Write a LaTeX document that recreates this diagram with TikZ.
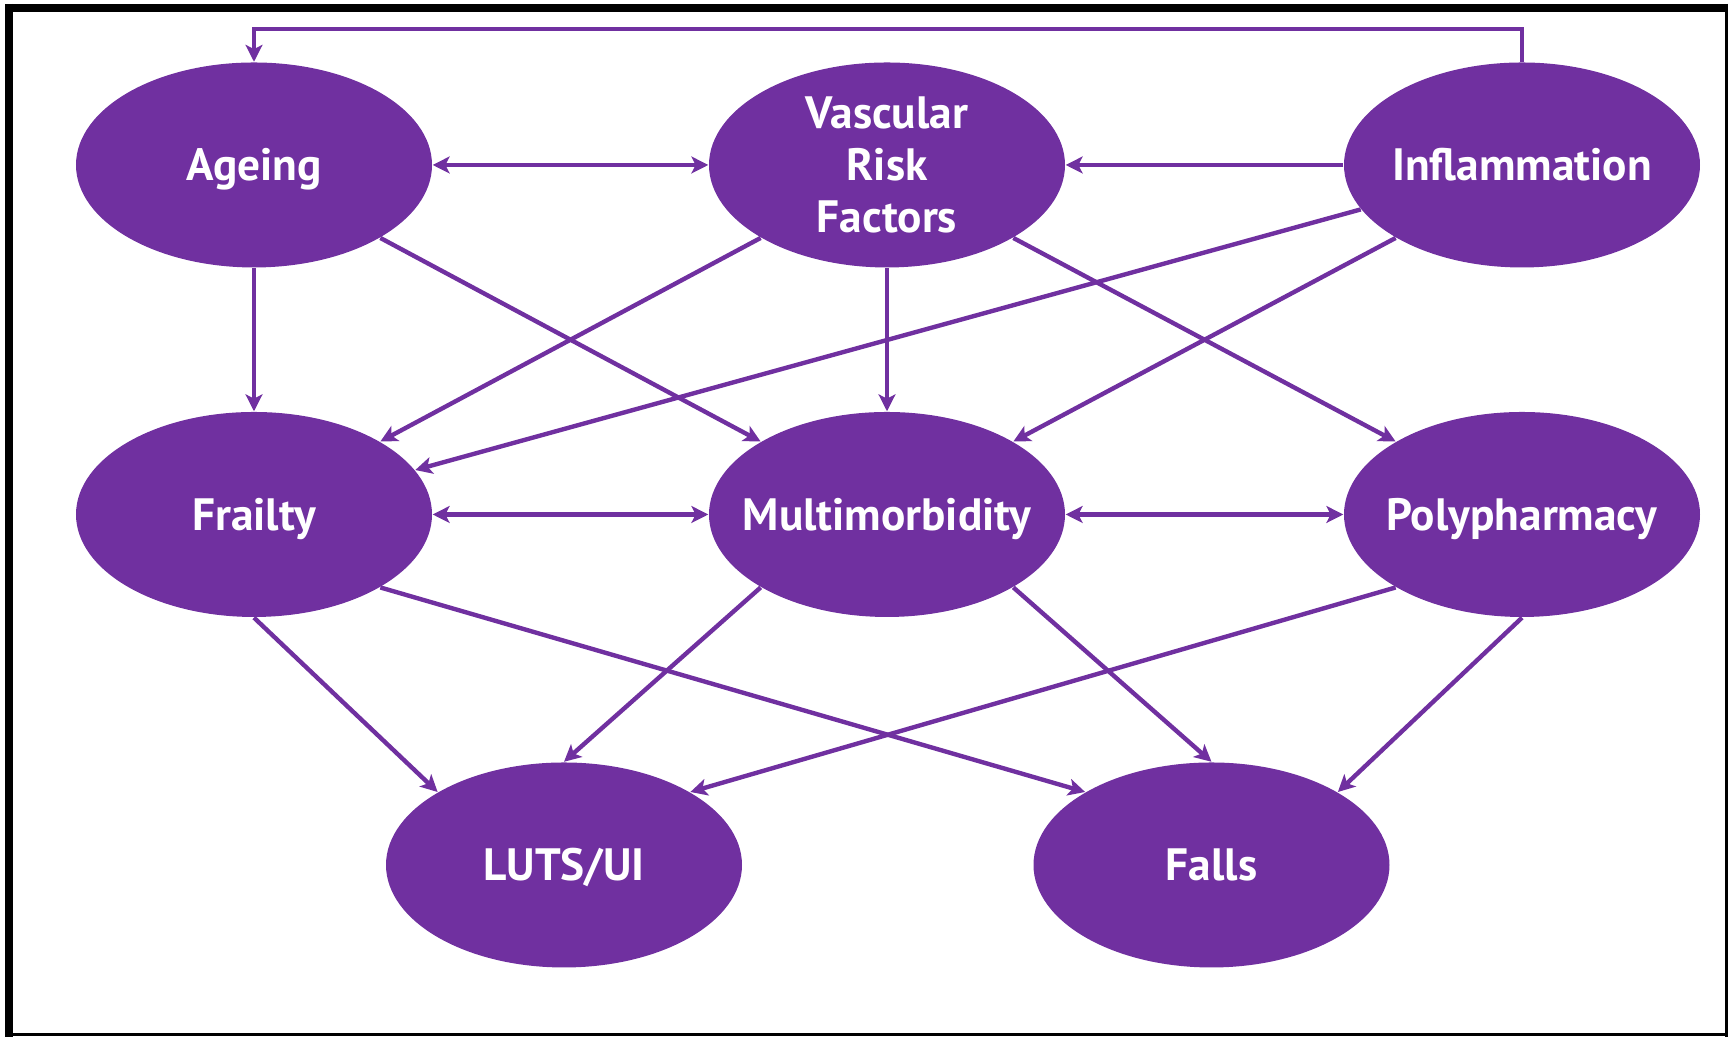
\documentclass[tikz,border=0pt]{standalone}
\usepackage{fontspec}
\setmainfont{PT Sans}
\usepackage{tikz}
\usetikzlibrary{shapes.geometric}
\usetikzlibrary{arrows.meta}

\definecolor{vpurple}{RGB}{112,48,160}

\begin{document}
\begin{tikzpicture}[
  factor/.style={ellipse, fill=vpurple, text=white, font=\fontsize{12.9}{14.8}\selectfont\bfseries,
    align=center, minimum width=3.56cm, minimum height=2.05cm, inner xsep=-0.5cm, inner ysep=-0.4cm,
    text height=9pt, text depth=0pt},
  link/.style={draw=vpurple, line width=1.25pt, ->},
  >={Stealth[length=4.8pt,width=4.8pt,inset=1.2pt]}]
\useasboundingbox (0,0) rectangle (17.28,10.37);
\draw[line width=0.08cm] (0.05,10.29) -- (17.28,10.29);
\draw[line width=0.08cm] (0.09,10.33) -- (0.09,0);
\draw[line width=0.035cm] (0.05,0.025) -- (17.28,0.025);
\draw[line width=0.035cm] (17.265,10.33) -- (17.265,0);

\node[factor] (ageing) at (2.54,8.72) {Ageing};
\node[factor, text height=38.6pt] (vrf) at (8.87,8.72) {Vascular\\Risk\\Factors};
\node[factor] (infl) at (15.22,8.72) {Inflammation};
\node[factor] (frailty) at (2.54,5.225) {Frailty};
\node[factor] (multi) at (8.87,5.225) {Multimorbidity};
\node[factor] (poly) at (15.22,5.225) {Polypharmacy};
\node[factor] (luts) at (5.64,1.72) {LUTS/UI};
\node[factor] (falls) at (12.115,1.72) {Falls};

\draw[link] (infl.north) -- ++(0,0.325) -| (ageing.north);
\draw[link,<->] (ageing.east) -- (vrf.west);
\draw[link] (infl.west) -- (vrf.east);
\draw[link] (ageing.south) -- (frailty.north);
\draw[link] (ageing.south east) -- (multi.north west);
\draw[link] (vrf.south west) -- (frailty.north east);
\draw[link] (vrf.south) -- (multi.north);
\draw[link] (vrf.south east) -- (poly.north west);
\draw[link] (infl) -- (frailty);
\draw[link] (infl.south west) -- (multi.north east);
\draw[link,<->] (frailty.east) -- (multi.west);
\draw[link,<->] (multi.east) -- (poly.west);
\draw[link] (frailty.south) -- (luts.north west);
\draw[link] (frailty.south east) -- (falls.north west);
\draw[link] (multi.south west) -- (luts.north);
\draw[link] (multi.south east) -- (falls.north);
\draw[link] (poly.south west) -- (luts.north east);
\draw[link] (poly.south) -- (falls.north east);
\end{tikzpicture}
\end{document}
